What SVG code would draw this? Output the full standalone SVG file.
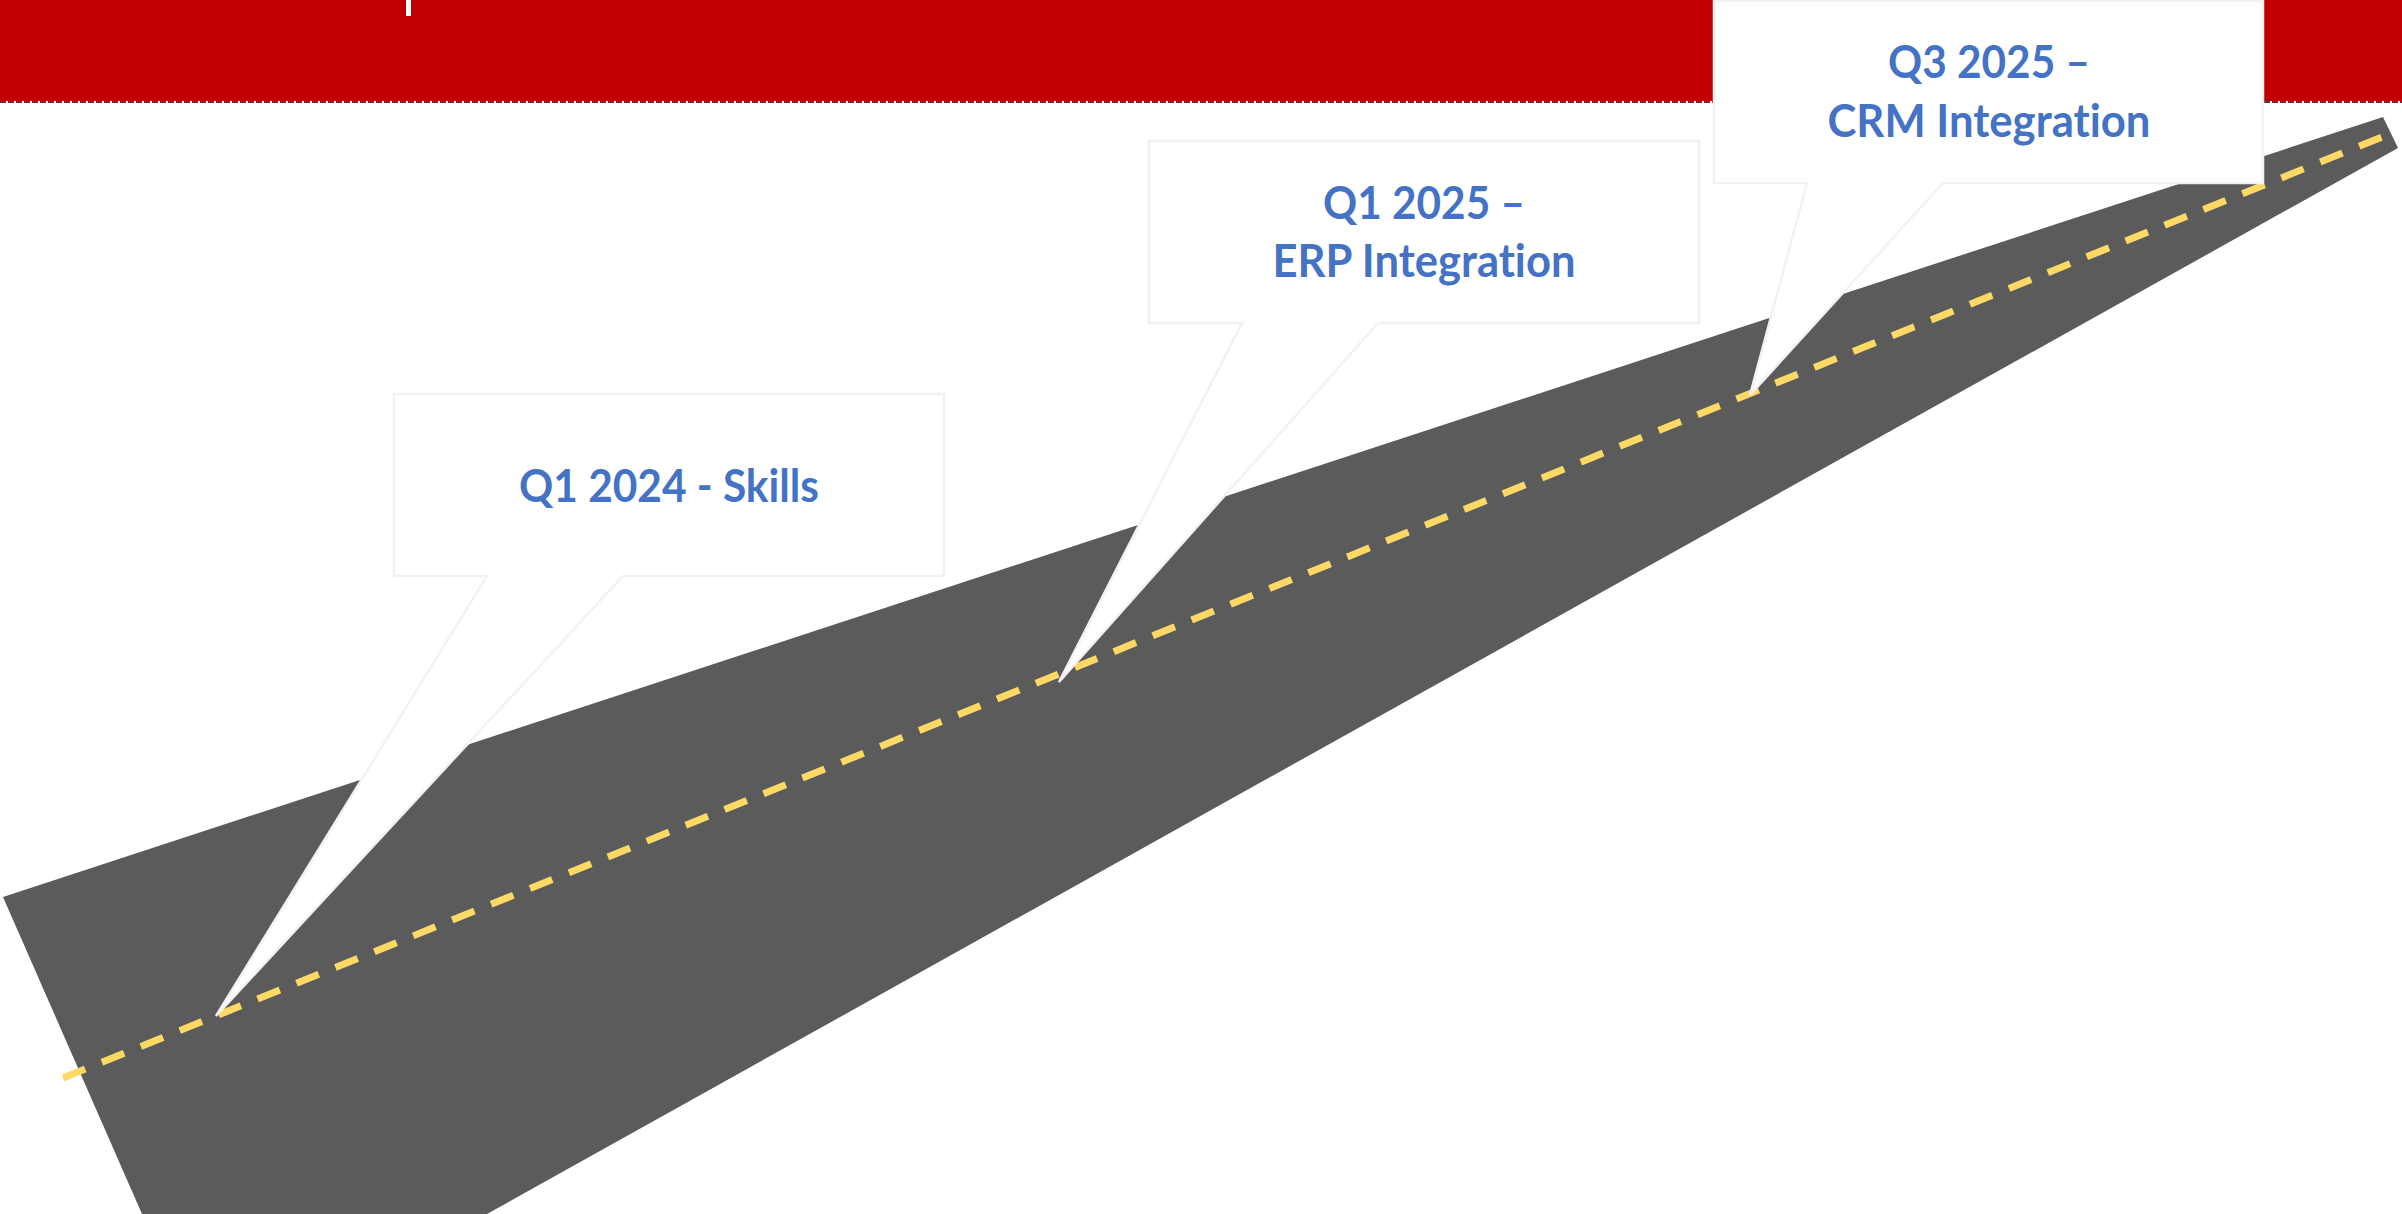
<svg xmlns="http://www.w3.org/2000/svg" width="2402" height="1214" viewBox="0 0 2402 1214">
<style>
.callout{fill:#FFFFFF;stroke:#F2F2F2;stroke-width:2.5;stroke-linejoin:miter}
.lbl{font-family:Lato,"Open Sans","Liberation Sans",sans-serif;font-weight:bold;font-size:45px;fill:#4472C4;text-anchor:middle;font-variant-ligatures:none;font-feature-settings:"liga" 0,"clig" 0}
</style>
<rect width="2402" height="1214" fill="#FFFFFF"/>
<g id="header">
<rect x="0" y="0" width="2402" height="101" fill="#C00000"/>
<line x1="0" y1="102" x2="2402" y2="102" stroke="#3F3F3F" stroke-width="2" stroke-dasharray="6 2"/>
<rect x="406" y="0" width="5" height="16" fill="#FFFFFF"/>
</g>
<g id="road">
<polygon points="3,897 2383,117 2398,148 487,1214 142,1214" fill="#5B5B5B"/>
</g>
<g id="connectors">
<line x1="63" y1="1078" x2="2392" y2="133" stroke="#FFD966" stroke-width="7" stroke-dasharray="24 18"/>
</g>
<g id="node-q1-2024">
<path class="callout" d="M394,394 H944 V576 H623 L216,1016 L487,576 H394 Z"/>
<text class="lbl" x="669" y="502" textLength="300" lengthAdjust="spacingAndGlyphs">Q1 2024 - Skills</text>
</g>
<g id="node-q1-2025">
<path class="callout" d="M1149,141 H1699 V323 H1378 L1059,682 L1242,323 H1149 Z"/>
<text class="lbl" x="1424" y="219" textLength="202" lengthAdjust="spacingAndGlyphs">Q1 2025 –</text>
<text class="lbl" x="1424" y="277" textLength="303" lengthAdjust="spacingAndGlyphs">ERP Integration</text>
</g>
<g id="node-q3-2025">
<path class="callout" d="M1714,1 H2263 V183 H1943 L1750,395 L1807,183 H1714 Z"/>
<text class="lbl" x="1989" y="78" textLength="202" lengthAdjust="spacingAndGlyphs">Q3 2025 –</text>
<text class="lbl" x="1989" y="137" textLength="323" lengthAdjust="spacingAndGlyphs">CRM Integration</text>
</g>
</svg>
